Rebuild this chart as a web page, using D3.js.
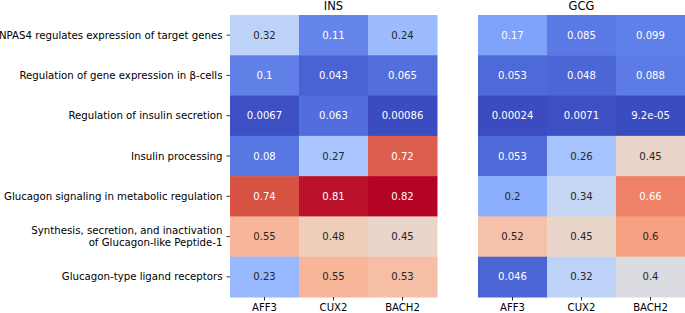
<!DOCTYPE html>
<html lang="en">
  <head>
    <meta charset="utf-8">
    <title>Pathway heatmap</title>
    <script type="text/javascript" src="https://cdn.jsdelivr.net/npm/d3@7"></script>
    <style>
      body { margin: 0; background: #fff; }
      text { font-family: "DejaVu Sans", sans-serif; }
    </style>
  </head>
  <body>
    <script type="text/javascript">

    var w = 685;
    var h = 313;

    var pathways = [
      "NPAS4 regulates expression of target genes",
      "Regulation of gene expression in \u03b2-cells",
      "Regulation of insulin secretion",
      "Insulin processing",
      "Glucagon signaling in metabolic regulation",
      "Synthesis, secretion, and inactivation\nof Glucagon-like Peptide-1",
      "Glucagon-type ligand receptors"
    ];
    var genes = ["AFF3", "CUX2", "BACH2"];
    var panelTitles = ["INS", "GCG"];

    var insValues = [
      [0.32, 0.11, 0.24],
      [0.1, 0.043, 0.065],
      [0.0067, 0.063, 0.00086],
      [0.08, 0.27, 0.72],
      [0.74, 0.81, 0.82],
      [0.55, 0.48, 0.45],
      [0.23, 0.55, 0.53]
    ];
    var gcgValues = [
      [0.17, 0.085, 0.099],
      [0.053, 0.048, 0.088],
      [0.00024, 0.0071, 9.2e-05],
      [0.053, 0.26, 0.45],
      [0.2, 0.34, 0.66],
      [0.52, 0.45, 0.6],
      [0.046, 0.32, 0.4]
    ];

    // matplotlib "coolwarm" control points
    var coolwarm = [
      [59,76,192],[68,90,204],[77,104,215],[87,117,225],[98,130,234],[108,142,241],
      [119,154,247],[130,165,251],[141,176,254],[152,185,255],[163,194,255],[174,201,253],
      [184,208,249],[194,213,244],[204,217,238],[213,219,230],[221,221,221],[229,216,209],
      [236,211,197],[241,204,185],[245,196,173],[247,187,160],[247,177,148],[247,166,135],
      [244,154,123],[241,141,111],[236,127,99],[229,112,88],[222,96,77],[213,80,66],
      [203,62,56],[192,40,47],[180,4,38]
    ];
    var cwInterp = d3.piecewise(d3.interpolateRgb,
      coolwarm.map(function(c) { return d3.rgb(c[0], c[1], c[2]); }));

    var allVals = d3.merge(insValues.concat(gcgValues));
    var color = d3.scaleSequential(cwInterp)
                  .domain([d3.min(allVals), d3.max(allVals)]);

    function lum(c) {
      var rgb = d3.rgb(c);
      var v = [rgb.r, rgb.g, rgb.b].map(function(x) {
        x = x / 255;
        return x <= 0.03928 ? x / 12.92 : Math.pow((x + 0.055) / 1.055, 2.4);
      });
      return 0.2126 * v[0] + 0.7152 * v[1] + 0.0722 * v[2];
    }

    // python-like ".2g"
    function fmt(v) {
      var e = Math.floor(Math.log10(Math.abs(v)));
      if (e < -4) {
        var s = d3.format(".2~e")(v);
        return s.replace(/e([+-])(\d)$/, "e$10$2");
      }
      return d3.format(".2~g")(v);
    }

    var gridTop = 15, gridBottom = 297;
    var yScale = d3.scaleBand().domain(d3.range(pathways.length)).range([gridTop, gridBottom]);

    var panels = [
      { title: panelTitles[0], values: insValues, x0: 230, x1: 437 },
      { title: panelTitles[1], values: gcgValues, x0: 478, x1: 685 }
    ];

    var svg = d3.select("body").append("svg")
                .attr("width", w)
                .attr("height", h);

    panels.forEach(function(p, pi) {
      var xScale = d3.scaleBand().domain(genes).range([p.x0, p.x1]);
      var g = svg.append("g");

      var cells = [];
      p.values.forEach(function(row, i) {
        row.forEach(function(v, j) {
          cells.push({ row: i, gene: genes[j], value: v });
        });
      });

      g.selectAll("rect")
       .data(cells)
       .enter()
       .append("rect")
       .attr("x", function(d) { return xScale(d.gene); })
       .attr("y", function(d) { return yScale(d.row); })
       .attr("width", xScale.bandwidth() + 0.5)
       .attr("height", yScale.bandwidth() + 0.5)
       .attr("fill", function(d) { return color(d.value); });

      g.selectAll("text.annot")
       .data(cells)
       .enter()
       .append("text")
       .attr("class", "annot")
       .attr("x", function(d) { return xScale(d.gene) + xScale.bandwidth() / 2; })
       .attr("y", function(d) { return yScale(d.row) + yScale.bandwidth() / 2; })
       .attr("dy", "0.35em")
       .attr("text-anchor", "middle")
       .attr("font-size", "10.1px")
       .attr("fill", function(d) { return lum(color(d.value)) > 0.408 ? "#262626" : "#ffffff"; })
       .text(function(d) { return fmt(d.value); });

      var xAxis = d3.axisBottom(xScale).tickSize(3.5).tickPadding(3);
      var xg = g.append("g")
                .attr("transform", "translate(0," + gridBottom + ")")
                .call(xAxis);
      xg.select(".domain").remove();
      xg.selectAll("text").attr("font-size", "10.1px").attr("font-family", "DejaVu Sans").attr("fill", "#000");
      xg.selectAll("line").attr("stroke", "#000").attr("stroke-width", 0.8);

      g.append("text")
       .attr("x", (p.x0 + p.x1) / 2)
       .attr("y", 10)
       .attr("text-anchor", "middle")
       .attr("font-size", "11.5px")
       .attr("fill", "#000")
       .text(p.title);

      if (pi === 0) {
        var yAxis = d3.axisLeft(yScale).tickSize(3.5).tickPadding(3).tickFormat("");
        var yg = g.append("g")
                  .attr("transform", "translate(" + p.x0 + ",0)")
                  .call(yAxis);
        yg.select(".domain").remove();
        yg.selectAll("line").attr("stroke", "#000").attr("stroke-width", 0.8);

        g.selectAll("text.ylab")
         .data(pathways)
         .enter()
         .append("text")
         .attr("class", "ylab")
         .attr("text-anchor", "end")
         .attr("font-size", "10.2px")
         .attr("fill", "#000")
         .attr("transform", function(d, i) {
           return "translate(" + (p.x0 - 7.5) + "," + (yScale(i) + yScale.bandwidth() / 2) + ")";
         })
         .each(function(d) {
           var lines = d.split("\n");
           var t = d3.select(this);
           lines.forEach(function(line, k) {
             t.append("tspan")
              .attr("x", 0)
              .attr("y", (k - (lines.length - 1) / 2) * 11.5)
              .attr("dy", "0.35em")
              .text(line);
           });
         });
      }
    });

    </script>
  </body>
</html>
